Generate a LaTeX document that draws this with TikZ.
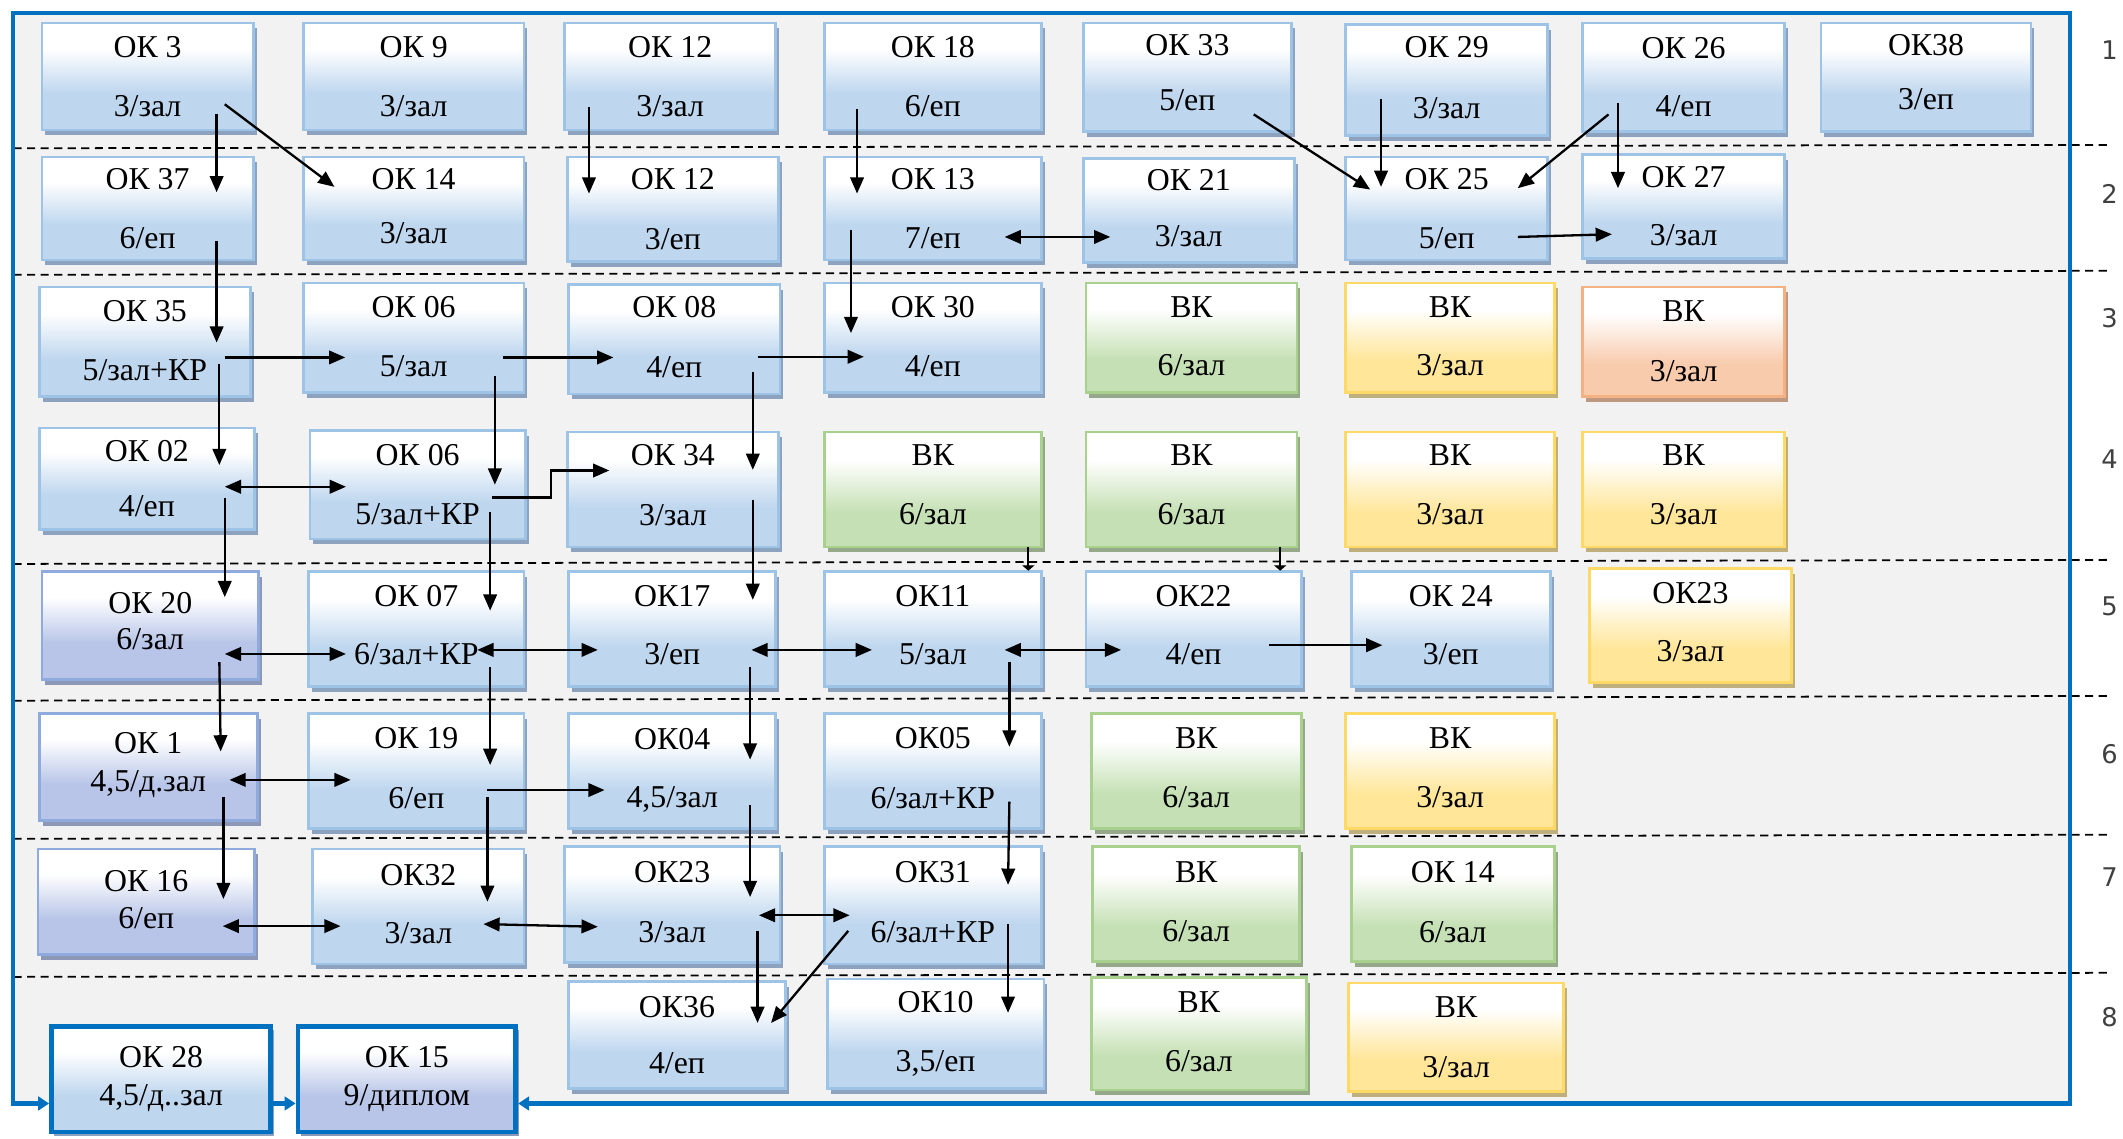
\documentclass[tikz,border=0pt]{standalone}
\usepackage{fontspec}
\setmainfont{Liberation Serif}
\newfontfamily\numfont{DejaVu Sans}
\usetikzlibrary{arrows.meta,calc,shadows}
\definecolor{bgc}{RGB}{242,242,242}
\definecolor{framec}{RGB}{0,112,192}
\definecolor{cBlue}{RGB}{190,214,238}
\definecolor{cBlueE}{RGB}{157,195,230}
\definecolor{cBlueS}{RGB}{140,162,190}
\definecolor{cPurp}{RGB}{184,197,232}
\definecolor{cPurpE}{RGB}{143,170,220}
\definecolor{cPurpS}{RGB}{140,152,182}
\definecolor{cGreen}{RGB}{197,224,180}
\definecolor{cGreenE}{RGB}{169,209,142}
\definecolor{cGreenS}{RGB}{150,168,138}
\definecolor{cYel}{RGB}{255,230,153}
\definecolor{cYelE}{RGB}{255,217,102}
\definecolor{cYelS}{RGB}{190,175,125}
\definecolor{cOr}{RGB}{248,203,173}
\definecolor{cOrE}{RGB}{244,177,131}
\definecolor{cOrS}{RGB}{190,152,128}
\pgfdeclareverticalshading{shblue}{100bp}{color(0bp)=(cBlue); color(42bp)=(cBlue); color(63bp)=(white); color(100bp)=(white)}
\pgfdeclareverticalshading{shpurp}{100bp}{color(0bp)=(cPurp); color(42bp)=(cPurp); color(63bp)=(white); color(100bp)=(white)}
\pgfdeclareverticalshading{shgreen}{100bp}{color(0bp)=(cGreen); color(40bp)=(cGreen); color(63bp)=(white); color(100bp)=(white)}
\pgfdeclareverticalshading{shyel}{100bp}{color(0bp)=(cYel); color(40bp)=(cYel); color(63bp)=(white); color(100bp)=(white)}
\pgfdeclareverticalshading{shor}{100bp}{color(0bp)=(cOr); color(40bp)=(cOr); color(63bp)=(white); color(100bp)=(white)}
\newcommand\boxfont{\fontsize{23.5}{22}\selectfont}
\newcommand\mybox[8]{\node[#2, minimum width={(#5-#3)*1pt}, minimum height={(#6-#4)*1pt}] (#1) at ({(#3+#5)/2},{(#4+#6)/2}) {#8\rule[-#7pt]{0pt}{0pt}};}
\newcommand\myarrow[5][]{\draw[arr,#1] ($(#2)+(#3)$) -- ($(#4)+(#5)$);}
\tikzset{
  bxbase/.style={rectangle, inner sep=0pt, align=center, font=\boxfont, line width=2pt, shade},
  bb/.style={bxbase, draw=cBlueE, shading=shblue, drop shadow={shadow xshift=2.5pt,shadow yshift=-4pt,fill=cBlueS,opacity=1}},
  pb/.style={bxbase, draw=cPurpE, shading=shpurp, drop shadow={shadow xshift=2.5pt,shadow yshift=-4pt,fill=cPurpS,opacity=1}},
  gb/.style={bxbase, draw=cGreenE, shading=shgreen, drop shadow={shadow xshift=2.5pt,shadow yshift=-4pt,fill=cGreenS,opacity=1}},
  yb/.style={bxbase, draw=cYelE, shading=shyel, drop shadow={shadow xshift=2.5pt,shadow yshift=-4pt,fill=cYelS,opacity=1}},
  ob/.style={bxbase, draw=cOrE, shading=shor, drop shadow={shadow xshift=2.5pt,shadow yshift=-4pt,fill=cOrS,opacity=1}},
  tb/.style={bxbase, draw=framec, line width=3.5pt, shading=shblue, drop shadow={shadow xshift=2pt,shadow yshift=-3pt,fill=cBlueS,opacity=1}},
  tp/.style={bxbase, draw=framec, line width=3.5pt, shading=shpurp, drop shadow={shadow xshift=2pt,shadow yshift=-3pt,fill=cPurpS,opacity=1}},
  arr/.style={->, line width=1.7pt, >={Triangle[length=12pt,width=10pt]}},
  tinyarr/.style={->, line width=1.7pt, >={Triangle[length=4pt,width=9pt]}},
  dline/.style={line width=1.3pt, dash pattern=on 6pt off 4pt},
  framel/.style={draw=framec, line width=3pt, >={Triangle[length=8pt,width=10pt]}},
  rnum/.style={font=\fontsize{19}{19}\numfont, text=black!75, inner sep=0pt}
}
\begin{document}
\begin{tikzpicture}[x=1pt,y=-1pt]
\useasboundingbox (0,0) rectangle (1568,841);
\fill[bgc] (9.5,9.5) rectangle (1529,815);
% dashed row separators
\draw[dline] (10,109.5) -- (1557,107);
\draw[dline] (10,203) -- (1557,200);
\draw[dline] (10,416.5) -- (1557,413.5);
\draw[dline] (10,517.5) -- (1557,514);
\draw[dline] (10,619.5) -- (1557,616.5);
\draw[dline] (10,721.5) -- (1557,718.5);
% row 1
\mybox{ok3}{bb}{31}{17}{187}{96}{0}{ОК 3\\[22pt]3/зал}
\mybox{ok9}{bb}{224}{17}{387}{96}{0}{ОК 9\\[22pt]3/зал}
\mybox{ok12a}{bb}{417}{17}{573}{96}{0}{ОК 12\\[22pt]3/зал}
\mybox{ok18}{bb}{609}{17}{769}{96}{0}{ОК 18\\[22pt]6/еп}
\mybox{ok33}{bb}{800}{17}{954}{97}{7}{ОК 33\\[19pt]5/еп}
\mybox{ok29}{bb}{994}{18}{1143}{100}{3}{ОК 29\\[23pt]3/зал}
\mybox{ok26}{bb}{1169}{17}{1318}{97}{0}{ОК 26\\[21pt]4/еп}
\mybox{ok38}{bb}{1345}{17}{1500}{97}{8}{ОК38\\[18pt]3/еп}
% row 2
\mybox{ok37}{bb}{31}{116}{187}{192}{0}{ОК 37\\[22pt]6/еп}
\mybox{ok14}{bb}{224}{116}{387}{192}{4}{ОК 14\\[18pt]3/зал}
\mybox{ok12b}{bb}{419}{116}{575}{193}{0}{ОК 12\\[22pt]3/еп}
\mybox{ok13}{bb}{609}{116}{769}{192}{0}{ОК 13\\[21pt]7/еп}
\mybox{ok21}{bb}{800}{117}{956}{194}{4}{ОК 21\\[19pt]3/зал}
\mybox{ok25}{bb}{994}{116}{1143}{192}{0}{ОК 25\\[22pt]5/еп}
\mybox{ok27}{bb}{1169}{114}{1318}{191}{0}{ОК 27\\[21pt]3/зал}
% row 3
\mybox{ok35}{bb}{29}{212}{185}{293}{2}{ОК 35\\[21pt]5/зал+КР}
\mybox{ok06a}{bb}{224}{209}{387}{290}{2}{ОК 06\\[21pt]5/зал}
\mybox{ok08}{bb}{420}{210}{576}{291}{3}{ОК 08\\[22pt]4/еп}
\mybox{ok30}{bb}{609}{209}{769}{290}{2}{ОК 30\\[21pt]4/еп}
\mybox{vk3a}{gb}{802}{209}{958}{290}{2}{ВК\\[21pt]6/зал}
\mybox{vk3b}{yb}{994}{209}{1148}{290}{2}{ВК\\[21pt]3/зал}
\mybox{vk3c}{ob}{1169}{212}{1318}{293}{1}{ВК\\[22pt]3/зал}
% row 4
\mybox{ok02}{bb}{29}{316}{188}{391}{0}{ОК 02\\[18pt]4/еп}
\mybox{ok06b}{bb}{229}{318}{388}{398}{0}{ОК 06\\[22pt]5/зал+КР}
\mybox{ok34}{bb}{419}{319}{575}{404}{7}{ОК 34\\[22pt]3/зал}
\mybox{vk4a}{gb}{609}{319}{769}{404}{7}{ВК\\[22pt]6/зал}
\mybox{vk4b}{gb}{802}{319}{958}{404}{7}{ВК\\[22pt]6/зал}
\mybox{vk4c}{yb}{994}{319}{1148}{404}{7}{ВК\\[22pt]3/зал}
\mybox{vk4d}{yb}{1169}{319}{1318}{404}{7}{ВК\\[22pt]3/зал}
% row 5
\mybox{ok20}{pb}{31}{422}{191}{502}{7}{ОК 20\\[5pt]6/зал}
\mybox{ok07}{bb}{228}{422}{387}{507}{6}{ОК 07\\[21pt]6/зал+КР}
\mybox{ok17}{bb}{420}{422}{573}{507}{6}{ОК17\\[21pt]3/еп}
\mybox{ok11}{bb}{609}{422}{769}{507}{6}{ОК11\\[21pt]5/зал}
\mybox{ok22}{bb}{802}{422}{961}{507}{6}{ОК22\\[21pt]4/еп}
\mybox{ok24}{bb}{998}{422}{1145}{507}{6}{ОК 24\\[21pt]3/еп}
\mybox{ok23y}{yb}{1174}{420}{1323}{504}{5}{ОК23\\[21pt]3/зал}
% row 6
\mybox{ok1}{pb}{29}{527}{190}{606}{7}{ОК 1\\[6pt]4,5/д.зал}
\mybox{ok19}{bb}{228}{527}{387}{612}{5}{ОК 19\\[22pt]6/еп}
\mybox{ok04}{bb}{420}{527}{573}{612}{5}{ОК04\\[21pt]4,5/зал}
\mybox{ok05}{bb}{609}{527}{769}{612}{5}{ОК05\\[22pt]6/зал+КР}
\mybox{vk6a}{gb}{806}{527}{961}{612}{5}{ВК\\[22pt]6/зал}
\mybox{vk6b}{yb}{994}{527}{1148}{612}{5}{ВК\\[22pt]3/зал}
% row 7
\mybox{ok16}{pb}{28}{627}{188}{705}{3}{ОК 16\\[5pt]6/еп}
\mybox{ok32}{bb}{231}{627}{387}{712}{4}{ОК32\\[21pt]3/зал}
\mybox{ok23}{bb}{417}{625}{576}{711}{4}{ОК23\\[22pt]3/зал}
\mybox{ok31}{bb}{609}{625}{769}{712}{5}{ОК31\\[22pt]6/зал+КР}
\mybox{vk7}{gb}{807}{625}{960}{710}{3}{ВК\\[22pt]6/зал}
\mybox{ok14g}{gb}{998}{625}{1148}{710}{3}{ОК 14\\[22pt]6/зал}
% row 8
\mybox{ok36}{bb}{420}{725}{580}{804}{0}{ОК36\\[20pt]4/еп}
\mybox{ok10}{bb}{611}{723}{771}{804}{2}{ОК10\\[21pt]3,5/еп}
\mybox{vk8a}{gb}{806}{722}{965}{805}{3}{ВК\\[22pt]6/зал}
\mybox{vk8b}{yb}{996}{726}{1155}{806}{0}{ВК\\[22pt]3/зал}
\mybox{ok28}{tb}{38}{758}{200}{836}{2}{ОК 28\\[6pt]4,5/д..зал}
\mybox{ok15}{tp}{220}{758}{381}{836}{2}{ОК 15\\[6pt]9/диплом}
% arrows rows 1-2
\myarrow{ok3}{51,27.5}{ok37}{51,-12}
\myarrow{ok3}{57,20.5}{ok14}{-58.5,-16}
\myarrow{ok12a}{-60,22.5}{ok12b}{-62,-11.5}
\myarrow{ok18}{-56,24}{ok13}{-56,-11}
\myarrow{ok33}{49,27.5}{ok25}{-56.5,-14}
\myarrow{ok29}{-48.5,14}{ok25}{-48.5,-16}
\myarrow{ok26}{-55.5,27.5}{ok25}{52.5,-15}
\myarrow{ok26}{-48.5,19}{ok27}{-48.5,-13.5}
\myarrow{ok25}{52.5,21}{ok27}{-53,20.5}
\myarrow[<->]{ok13}{53,21}{ok21}{-58,19.5}
% rows 2-3
\myarrow{ok37}{51,24}{ok35}{53,0.5}
\myarrow{ok13}{-60.5,16}{ok30}{-60.5,-3.5}
\myarrow{ok35}{59,11.5}{ok06a}{-50.5,14.5}
\myarrow{ok06a}{66,14.5}{ok08}{-45,13.5}
\myarrow{ok08}{62,13}{ok30}{-51,14}
% rows 3-4
\myarrow{ok35}{55,16.5}{ok02}{53.5,-10}
\myarrow{ok06a}{60,28}{ok06b}{57,0}
\myarrow{ok08}{58,24.5}{ok34}{59,-14.5}
\myarrow[<->]{ok02}{57.5,6}{ok06b}{-53,1.5}
\draw[arr] ($(ok06b)+(55,9.5)$) -- ++(43.5,0) |- ($(ok34)+(-47,-14)$);
% rows 4-5
\myarrow{ok02}{57.5,14}{ok20}{55,-21}
\myarrow{ok06b}{53.5,20}{ok07}{54.5,-13.5}
\myarrow{ok34}{59,7.5}{ok17}{59.5,-21.5}
\myarrow[tinyarr]{vk4a}{70.5,42.5}{ok11}{70.5,-43}
\myarrow[tinyarr]{vk4b}{65.5,42.5}{ok22}{64,-43}
% row 5
\myarrow[<->]{ok20}{55,21}{ok07}{-52,18.5}
\myarrow[<->]{ok07}{45,15.5}{ok17}{-55,15.5}
\myarrow[<->]{ok17}{58.5,15.5}{ok11}{-45,15.5}
\myarrow[<->]{ok11}{53,15.5}{ok22}{-53.5,15.5}
\myarrow{ok22}{56,12}{ok24}{-50.5,12}
% rows 5-6
\myarrow{ok20}{51,27}{ok1}{53.5,-11.5}
\myarrow{ok07}{54.5,28}{ok19}{54.5,-4.5}
\myarrow{ok17}{57.5,28}{ok04}{57.5,-8.5}
\myarrow{ok11}{56.5,24.5}{ok05}{56.5,-18}
% row 6
\myarrow[<->]{ok1}{60,9.5}{ok19}{-48.5,6.5}
\myarrow{ok19}{52.5,14}{ok04}{-50,14}
% rows 6-7
\myarrow{ok1}{55.5,22}{ok16}{57,-2}
\myarrow{ok19}{52.5,19}{ok32}{51,-3.5}
\myarrow{ok04}{57.5,25}{ok23}{57.5,-5.5}
\myarrow{ok05}{56.5,22.5}{ok31}{55.5,-15}
% row 7
\myarrow[<->]{ok16}{56.5,18}{ok32}{-57.5,14.5}
\myarrow[<->]{ok32}{48,13}{ok23}{-55,16.5}
\myarrow[<->]{ok23}{64,8}{ok31}{-61.5,7.5}
% rows 7-8
\myarrow{ok23}{63,19.5}{ok36}{59.5,-9}
\myarrow{ok31}{-62.5,19}{ok36}{69.5,-9}
\myarrow{ok31}{55.5,14}{ok10}{53.5,-15.5}
% frame with arrows into OK 28 and OK 15
\coordinate (fb) at (0,815);
\coordinate (fbr) at (1529,815);
\coordinate (ftr) at (1529,9.5);
\coordinate (ftl) at (9.5,9.5);
\coordinate (fbl) at (9.5,815);
\draw[framel,<->] (ok15.east |- fb) -- (fbr) -- (ftr) -- (ftl) -- (fbl) -- (ok28.west |- fb);
\draw[framel,->] (ok28.east |- fb) -- (ok15.west |- fb);
% row numbers
\node[rnum] (n1) at (1558,37) {1};
\node[rnum] (n2) at (1558,143) {2};
\node[rnum] (n3) at (1558,235) {3};
\node[rnum] (n4) at (1558,339) {4};
\node[rnum] (n5) at (1558,448) {5};
\node[rnum] (n6) at (1558,557) {6};
\node[rnum] (n7) at (1558,648) {7};
\node[rnum] (n8) at (1558,751) {8};
\end{tikzpicture}
\end{document}
